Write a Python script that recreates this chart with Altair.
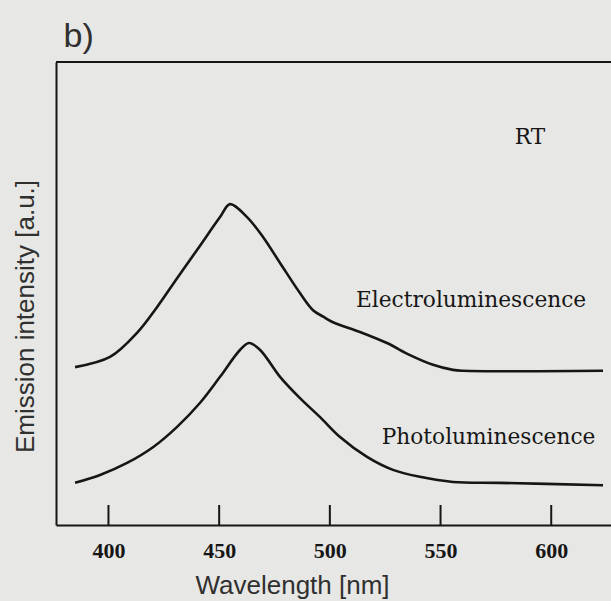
import altair as alt
import pandas as pd

# Electroluminescence curve (wavelength nm, intensity a.u.)
el_wl = [384.9, 400.7, 412.9, 422.0, 431.0, 440.0, 450.4, 454.9, 462.6, 469.8,
         477.5, 486.5, 492.4, 497.0, 501.4, 513.6, 525.8, 536.2, 546.6, 555.6, 560.2, 623.4]
el_int = [3.41, 3.63, 4.15, 4.71, 5.33, 5.94, 6.65, 6.93, 6.65, 6.22,
          5.66, 5.01, 4.64, 4.50, 4.38, 4.17, 3.93, 3.67, 3.46, 3.35, 3.33, 3.33]

# Photoluminescence curve
pl_wl = [384.9, 396.2, 408.4, 420.1, 431.0, 441.4, 450.4, 459.4, 463.5, 468.5, 477.5,
         486.5, 495.6, 504.6, 516.8, 528.5, 540.7, 555.6, 576.8, 623.4]
pl_int = [0.91, 1.08, 1.34, 1.68, 2.12, 2.64, 3.20, 3.78, 3.93, 3.78, 3.20,
          2.74, 2.33, 1.90, 1.47, 1.19, 1.04, 0.93, 0.91, 0.86]

tick_values = [400, 450, 500, 550, 600]

label_text = ["RT", "Electroluminescence", "Photoluminescence"]
label_wl = [590.4, 563.8, 571.7]
label_int = [8.38, 4.86, 1.90]

panel_text = ["b)"]
panel_wl = [386.5]
panel_int = [10.55]

W, H = 555, 463
INK = "#161616"
TXT = "#303030"

df = pd.DataFrame(
    {"wl": el_wl + pl_wl,
     "int": el_int + pl_int,
     "series": ["Electroluminescence"] * len(el_wl) + ["Photoluminescence"] * len(pl_wl)}
)
ticks_df = pd.DataFrame({"t": tick_values})
labels_df = pd.DataFrame({"text": label_text, "wl": label_wl, "int": label_int})
panel_df = pd.DataFrame({"text": panel_text, "wl": panel_wl, "int": panel_int})

xscale = alt.Scale(domain=[376.3, 627.0], nice=False, zero=False)
yscale = alt.Scale(domain=[0, 10], nice=False)

x_axis = alt.Axis(
    values=tick_values, ticks=False, grid=False, domainColor=INK, domainWidth=2,
    labelFont="Liberation Serif", labelFontWeight="bold", labelFontSize=22,
    labelColor=INK, labelPadding=15,
    title="Wavelength [nm]", titleFont="Liberation Sans", titleFontWeight="normal",
    titleFontSize=26, titleColor=TXT, titleX=236, titleY=68,
    titleBaseline="alphabetic", titleAlign="center",
)
y_axis = alt.Axis(
    ticks=False, labels=False, grid=False, domainColor=INK, domainWidth=2,
    title="Emission intensity [a.u.]", titleFont="Liberation Sans",
    titleFontWeight="normal", titleFontSize=26, titleColor=TXT,
    titleX=-23, titleY=254, titleBaseline="alphabetic", titleAngle=270,
    titleAlign="center",
)

lines = alt.Chart(df).mark_line(color=INK, strokeWidth=2.6, interpolate="catmull-rom").encode(
    x=alt.X("wl:Q", scale=xscale, axis=x_axis),
    y=alt.Y("int:Q", scale=yscale, axis=y_axis),
    detail="series:N",
)

tick_marks = alt.Chart(ticks_df).mark_rule(color=INK, strokeWidth=2).encode(
    x=alt.X("t:Q", scale=xscale),
    y=alt.value(H - 20),
    y2=alt.value(H),
)

top_frame = alt.Chart(ticks_df.head(1)).mark_rule(color=INK, strokeWidth=2).encode(
    x=alt.value(0), x2=alt.value(W), y=alt.value(0)
)

labels = alt.Chart(labels_df).mark_text(
    font="DejaVu Serif", fontSize=21.7, color=INK, align="center", baseline="middle"
).encode(
    x=alt.X("wl:Q", scale=xscale),
    y=alt.Y("int:Q", scale=yscale),
    text="text:N",
)

panel = alt.Chart(panel_df).mark_text(
    font="Liberation Sans", fontSize=34, color=TXT, align="center", baseline="middle"
).encode(
    x=alt.X("wl:Q", scale=xscale),
    y=alt.Y("int:Q", scale=yscale),
    text="text:N",
)

chart = alt.layer(lines, tick_marks, top_frame, labels, panel).properties(
    width=W, height=H,
    autosize=alt.AutoSizeParams(type="none"),
    padding={"left": 56, "top": 62, "right": 0, "bottom": 76},
    background="#e7e7e5",
).configure_view(stroke=None)

chart.save("out.html", embed_options={"renderer": "svg", "actions": False})
